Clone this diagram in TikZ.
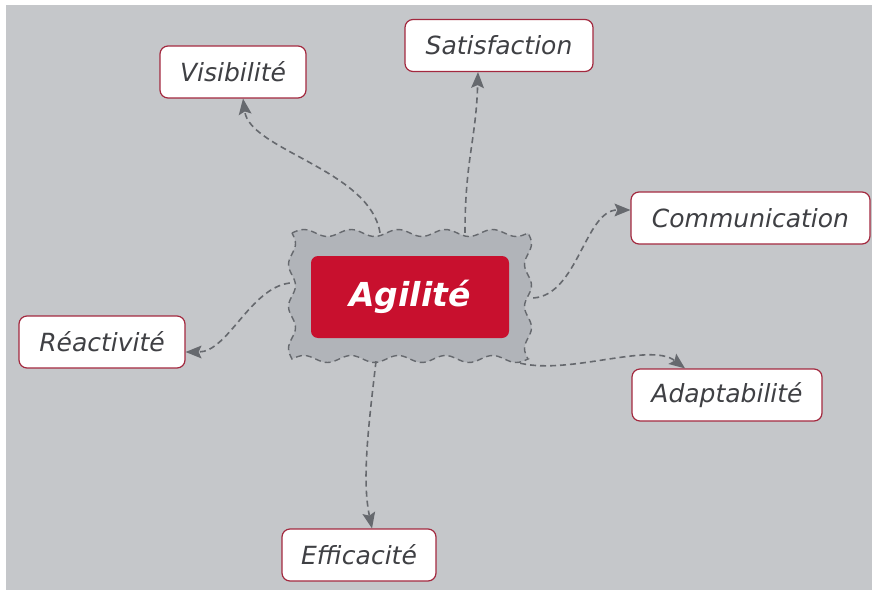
\documentclass[tikz,border=0pt]{standalone}
\usepackage{fontspec}
\setmainfont{DejaVu Sans}
\usepackage{tikz}
\usetikzlibrary{arrows.meta,positioning,calc}

\definecolor{bggray}{HTML}{C5C7CA}
\definecolor{wavegray}{HTML}{B1B4B9}
\definecolor{linegray}{HTML}{66696E}
\definecolor{boxred}{HTML}{A3293F}
\definecolor{agired}{HTML}{C8102E}
\definecolor{textgray}{HTML}{3F4044}

\begin{document}
\begin{tikzpicture}[
    x=1pt, y=1pt,
    goal/.style={draw=boxred, line width=1.2pt, fill=white, rounded corners=8pt,
        minimum height=52pt, inner sep=0pt, text=textgray,
        font=\fontsize{25}{28}\selectfont\itshape},
    core/.style={fill=agired, rounded corners=7pt, minimum width=198pt,
        minimum height=82pt, text=white,
        font=\fontsize{33}{36}\selectfont\bfseries\itshape},
    wavy/.style={draw=linegray, fill=wavegray, line width=1.4pt,
        dash pattern=on 6pt off 4pt},
    link/.style={draw=linegray, line width=1.6pt, dash pattern=on 6pt off 4pt,
        -{Stealth[length=16pt,width=13pt,inset=3pt,line width=0pt,fill=linegray]}}
]
    % Canvas
    \useasboundingbox (0,0) rectangle (872,590);
    \fill[white] (0,0) rectangle (872,590);
    \fill[bggray] (6,0) rectangle (872,585);

    % Wavy frame round the centre
    \node[minimum width=236pt, minimum height=126pt, inner sep=0pt] (wave) at (410,294) {};
    \draw[wavy] plot[domain=292:528, samples=80, smooth] (\x,{357+3.5*sin((\x-292)/47.2*360)})
        -- plot[domain=357:231, samples=50, smooth] ({528+3.5*sin((357-\x)/42*360)},\x)
        -- plot[domain=528:292, samples=80, smooth] (\x,{231-3.5*sin((528-\x)/47.2*360)})
        -- plot[domain=231:357, samples=50, smooth] ({292-3.5*sin((\x-231)/42*360)},\x) -- cycle;
    \node[core] (agi) at (410,293) {Agilité};

    % Goals
    \node[goal, minimum width=146pt] (vis) at (233,518) {Visibilité};
    \node[goal, minimum width=188pt] (sat) at (499,544.5) {Satisfaction};
    \node[goal, minimum width=239pt] (com) at (750.5,372) {Communication};
    \node[goal, minimum width=166pt] (rea) at (102,248) {Réactivité};
    \node[goal, minimum width=190pt] (ada) at (727,195) {Adaptabilité};
    \node[goal, minimum width=154pt] (eff) at (359,35) {Efficacité};

    % Links
    \draw[link] ($(wave.north)+(-30,0)$) .. controls (370,420) and (250,440) .. ([xshift=10pt]vis.south);
    \draw[link] ($(wave.north)+(55,0)$) .. controls (465,430) and (476,450) .. ([xshift=-21pt]sat.south);
    \draw[link] ($(wave.east)+(5,-2)$) .. controls (578,295) and (585,380) .. ([yshift=8pt]com.west);
    \draw[link] ($(wave.west)+(-2,13)$) .. controls (250,302) and (228,238) .. ([yshift=-10pt]rea.east);
    \draw[link] ($(wave.south east)+(-8,-4)$) .. controls (570,215) and (650,248) .. ([xshift=-42pt]ada.north);
    \draw[link] ($(wave.south)+(-34,-2)$) .. controls (368,160) and (362,110) .. ([xshift=13pt]eff.north);
\end{tikzpicture}
\end{document}
